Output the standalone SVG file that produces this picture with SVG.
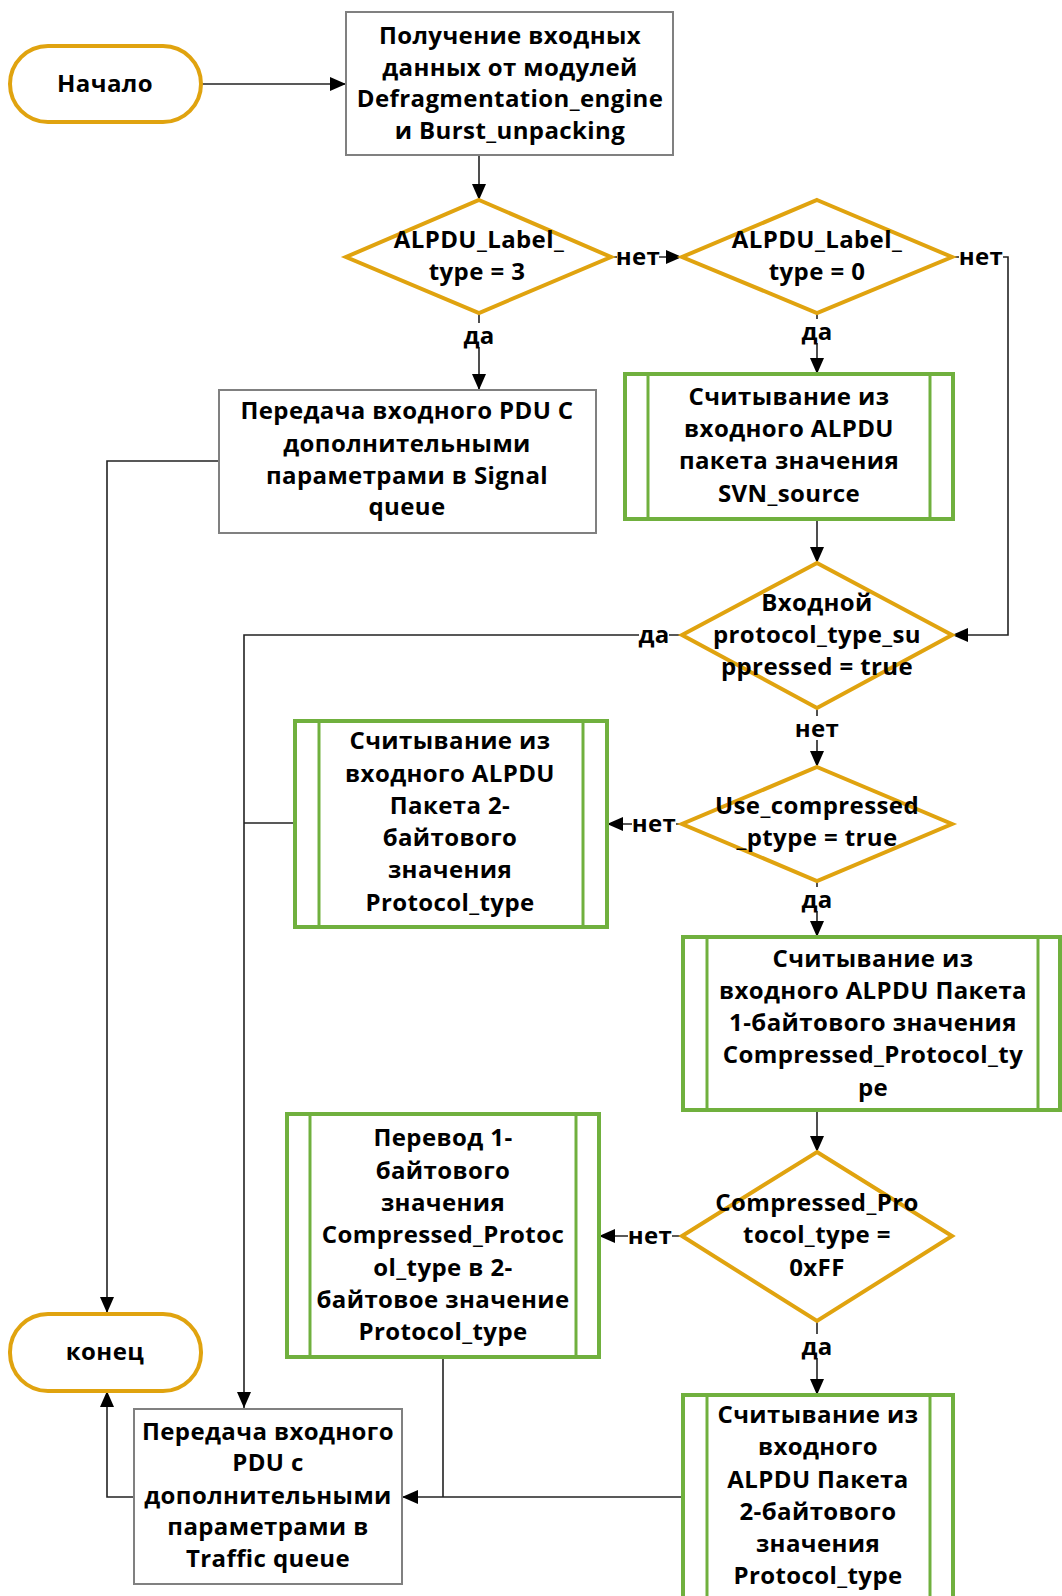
<svg xmlns="http://www.w3.org/2000/svg" width="1062" height="1596" viewBox="0 0 1062 1596">
  <style>
    text { font-family: "Open Sans", "Noto Sans", "DejaVu Sans", sans-serif; font-weight: bold; font-size: 24px; letter-spacing: 0.4px; fill: #000; text-anchor: middle; dominant-baseline: central; }
    .term { fill: #fff; stroke: #E0A30F; stroke-width: 4; }
    .dec { fill: #fff; stroke: #E0A30F; stroke-width: 4; }
    .proc { fill: #fff; stroke: #808080; stroke-width: 2; }
    .sub { fill: #fff; stroke: #70B03E; stroke-width: 4; }
    .subin { stroke: #70B03E; stroke-width: 3; fill: none; }
    .conn { fill: none; stroke: #222; stroke-width: 1.6; }
    .lblbg { fill: #fff; }
  </style>
  <defs>
    <marker id="arrow" viewBox="0 0 16 14" refX="16" refY="7" markerWidth="16" markerHeight="14" markerUnits="userSpaceOnUse" orient="auto">
      <path d="M0,0 L16,7 L0,14 z" fill="#000"/>
    </marker>
  </defs>

  <rect width="1062" height="1596" fill="#fff"/>

  <!-- connectors -->
  <g id="connectors">
    <path class="conn" d="M201,84 H346" marker-end="url(#arrow)"/>
    <path class="conn" d="M479,155 V200" marker-end="url(#arrow)"/>
    <path class="conn" d="M611,257 H682" marker-end="url(#arrow)"/>
    <path class="conn" d="M952,257 H1008 V635 H952" marker-end="url(#arrow)"/>
    <path class="conn" d="M479,313 V390" marker-end="url(#arrow)"/>
    <path class="conn" d="M817,313 V374" marker-end="url(#arrow)"/>
    <path class="conn" d="M219,461 H107 V1313" marker-end="url(#arrow)"/>
    <path class="conn" d="M817,519 V563" marker-end="url(#arrow)"/>
    <path class="conn" d="M682,635 H244 V1408" marker-end="url(#arrow)"/>
    <path class="conn" d="M817,708 V767" marker-end="url(#arrow)"/>
    <path class="conn" d="M682,824 H607" marker-end="url(#arrow)"/>
    <path class="conn" d="M295,823 H244"/>
    <path class="conn" d="M817,881 V937" marker-end="url(#arrow)"/>
    <path class="conn" d="M817,1110 V1152" marker-end="url(#arrow)"/>
    <path class="conn" d="M682,1236 H599" marker-end="url(#arrow)"/>
    <path class="conn" d="M817,1321 V1395" marker-end="url(#arrow)"/>
    <path class="conn" d="M443,1357 V1497"/>
    <path class="conn" d="M683,1497 H402" marker-end="url(#arrow)"/>
    <path class="conn" d="M134,1497 H107 V1391" marker-end="url(#arrow)"/>

    <!-- branch labels -->
    <rect class="lblbg" x="617" y="244" width="42" height="24"/>
    <text x="638" y="255">нет</text>
    <rect class="lblbg" x="959" y="244" width="44" height="24"/>
    <text x="981" y="255">нет</text>
    <rect class="lblbg" x="465" y="323" width="28" height="24"/>
    <text x="479" y="334">да</text>
    <rect class="lblbg" x="803" y="319" width="28" height="24"/>
    <text x="817" y="330">да</text>
    <rect class="lblbg" x="639" y="622" width="30" height="24"/>
    <text x="654" y="633">да</text>
    <rect class="lblbg" x="796" y="716" width="42" height="24"/>
    <text x="817" y="727">нет</text>
    <rect class="lblbg" x="632" y="811" width="44" height="24"/>
    <text x="654" y="822">нет</text>
    <rect class="lblbg" x="803" y="887" width="28" height="24"/>
    <text x="817" y="898">да</text>
    <rect class="lblbg" x="628" y="1223" width="44" height="24"/>
    <text x="650" y="1234">нет</text>
    <rect class="lblbg" x="803" y="1334" width="28" height="24"/>
    <text x="817" y="1345">да</text>
  </g>

  <!-- start -->
  <g id="start">
    <rect class="term" x="10" y="46" width="191" height="76" rx="38"/>
    <text x="105" y="82">Начало</text>
  </g>

  <!-- input data -->
  <g id="input">
    <rect class="proc" x="346" y="12" width="327" height="143"/>
    <text x="510" y="34">Получение входных</text>
    <text x="510" y="66">данных от модулей</text>
    <text x="510" y="97">Defragmentation_engine</text>
    <text x="510" y="129">и Burst_unpacking</text>
  </g>

  <!-- label type = 3 -->
  <g id="dec-label3">
    <polygon class="dec" points="479,200 611,257 479,313 346,257"/>
    <text x="479" y="238">ALPDU_Label_</text>
    <text x="477" y="270">type = 3</text>
  </g>

  <!-- label type = 0 -->
  <g id="dec-label0">
    <polygon class="dec" points="817,200 952,257 817,313 682,257"/>
    <text x="817" y="238">ALPDU_Label_</text>
    <text x="817" y="270">type = 0</text>
  </g>

  <!-- signal queue -->
  <g id="signal-queue">
    <rect class="proc" x="219" y="390" width="377" height="143"/>
    <text x="407" y="409">Передача входного PDU С</text>
    <text x="407" y="442">дополнительными</text>
    <text x="407" y="474">параметрами в Signal</text>
    <text x="407" y="505">queue</text>
  </g>

  <!-- SVN_source read -->
  <g id="read-svn">
    <rect class="sub" x="625" y="374" width="328" height="145"/>
    <line class="subin" x1="648" y1="374" x2="648" y2="519"/>
    <line class="subin" x1="930" y1="374" x2="930" y2="519"/>
    <text x="789" y="395">Считывание из</text>
    <text x="789" y="427">входного ALPDU</text>
    <text x="789" y="459">пакета значения</text>
    <text x="789" y="492">SVN_source</text>
  </g>

  <!-- protocol_type_suppressed -->
  <g id="dec-suppressed">
    <polygon class="dec" points="817,563 952,635 817,708 682,635"/>
    <text x="817" y="601">Входной</text>
    <text x="817" y="633">protocol_type_su</text>
    <text x="817" y="665">ppressed = true</text>
  </g>

  <!-- use_compressed_ptype -->
  <g id="dec-compressed">
    <polygon class="dec" points="817,767 952,824 817,881 682,824"/>
    <text x="817" y="804">Use_compressed</text>
    <text x="817" y="836">_ptype = true</text>
  </g>

  <!-- read 2-byte Protocol_type (left) -->
  <g id="read-2byte-a">
    <rect class="sub" x="295" y="721" width="312" height="206"/>
    <line class="subin" x1="319" y1="721" x2="319" y2="927"/>
    <line class="subin" x1="583" y1="721" x2="583" y2="927"/>
    <text x="450" y="739">Считывание из</text>
    <text x="450" y="772">входного ALPDU</text>
    <text x="450" y="804">Пакета 2-</text>
    <text x="450" y="836">байтового</text>
    <text x="450" y="868">значения</text>
    <text x="450" y="901">Protocol_type</text>
  </g>

  <!-- read 1-byte Compressed_Protocol_type -->
  <g id="read-1byte">
    <rect class="sub" x="683" y="937" width="377" height="173"/>
    <line class="subin" x1="707" y1="937" x2="707" y2="1110"/>
    <line class="subin" x1="1038" y1="937" x2="1038" y2="1110"/>
    <text x="873" y="957">Считывание из</text>
    <text x="873" y="989">входного ALPDU Пакета</text>
    <text x="873" y="1021">1-байтового значения</text>
    <text x="873" y="1053">Compressed_Protocol_ty</text>
    <text x="873" y="1086">pe</text>
  </g>

  <!-- Compressed_Protocol_type = 0xFF -->
  <g id="dec-0xff">
    <polygon class="dec" points="817,1152 952,1236 817,1321 682,1236"/>
    <text x="817" y="1201">Compressed_Pro</text>
    <text x="817" y="1233">tocol_type =</text>
    <text x="817" y="1266">0xFF</text>
  </g>

  <!-- convert 1-byte to 2-byte -->
  <g id="convert">
    <rect class="sub" x="287" y="1114" width="312" height="243"/>
    <line class="subin" x1="310" y1="1114" x2="310" y2="1357"/>
    <line class="subin" x1="576" y1="1114" x2="576" y2="1357"/>
    <text x="443" y="1136">Перевод 1-</text>
    <text x="443" y="1169">байтового</text>
    <text x="443" y="1201">значения</text>
    <text x="443" y="1233">Compressed_Protoc</text>
    <text x="443" y="1266">ol_type в 2-</text>
    <text x="443" y="1298">байтовое значение</text>
    <text x="443" y="1330">Protocol_type</text>
  </g>

  <!-- read 2-byte Protocol_type (bottom) -->
  <g id="read-2byte-b">
    <rect class="sub" x="683" y="1395" width="270" height="220"/>
    <line class="subin" x1="707" y1="1395" x2="707" y2="1615"/>
    <line class="subin" x1="930" y1="1395" x2="930" y2="1615"/>
    <text x="818" y="1413">Считывание из</text>
    <text x="818" y="1445">входного</text>
    <text x="818" y="1478">ALPDU Пакета</text>
    <text x="818" y="1510">2-байтового</text>
    <text x="818" y="1542">значения</text>
    <text x="818" y="1574">Protocol_type</text>
  </g>

  <!-- end -->
  <g id="end">
    <rect class="term" x="10" y="1314" width="191" height="77" rx="38"/>
    <text x="105" y="1350">конец</text>
  </g>

  <!-- traffic queue -->
  <g id="traffic-queue">
    <rect class="proc" x="134" y="1409" width="268" height="175"/>
    <text x="268" y="1430">Передача входного</text>
    <text x="268" y="1461">PDU с</text>
    <text x="268" y="1494">дополнительными</text>
    <text x="268" y="1525">параметрами в</text>
    <text x="268" y="1557">Traffic queue</text>
  </g>
</svg>
